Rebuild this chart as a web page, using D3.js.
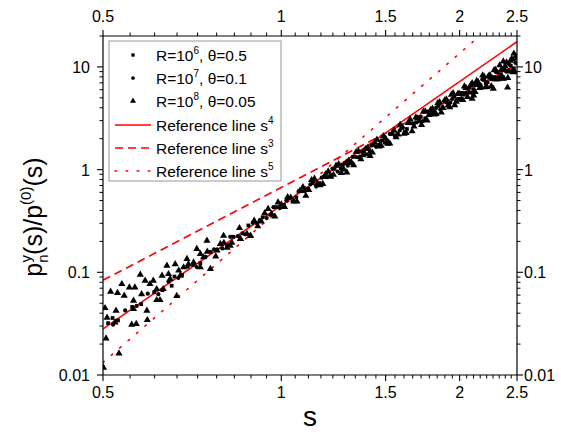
<!DOCTYPE html>
<html><head><meta charset="utf-8">
<script src="https://cdn.jsdelivr.net/npm/d3@7"></script>
<style>body{margin:0;background:#fff}svg{display:block;font-family:Arial,"Liberation Sans",sans-serif}</style>
</head><body><svg id="c" width="561" height="436"></svg>
<script>
// ---- data ----
const xTicks = [0.5, 1, 1.5, 2, 2.5];
const xTickLabels = ["0.5", "1", "1.5", "2", "2.5"];
const yTicks = [0.01, 0.1, 1, 10];
const yTickLabels = ["0.01", "0.1", "1", "10"];

// R=10^6, theta=0.5 (squares)
const sA = [0.51,0.53,0.56,0.58,0.61,0.63,0.66,0.68,0.71,0.73,0.76,0.78,0.81,0.83,0.86,0.88,0.91,0.93,0.96,0.98,1.01,1.03,1.06,1.08,1.11,1.13,1.16,1.18,1.21,1.23,1.26,1.28,1.31,1.33,1.36,1.38,1.41,1.43,1.46,1.48,1.51,1.54,1.57,1.6,1.63,1.66,1.69,1.72,1.75,1.78,1.81,1.84,1.87,1.9,1.93,1.96,1.99,2.02,2.05,2.08,2.11,2.14,2.17,2.2,2.23,2.26,2.29,2.32,2.35,2.38,2.41,2.44,2.47,2.5,0.519,0.653];
const vA = [0.032,0.034,0.046,0.049,0.064,0.067,0.091,0.094,0.118,0.123,0.158,0.165,0.184,0.222,0.239,0.286,0.302,0.343,0.363,0.432,0.454,0.526,0.535,0.615,0.650,0.736,0.739,0.846,0.885,1.016,1.034,1.151,1.151,1.332,1.343,1.490,1.511,1.739,1.743,1.924,1.910,2.226,2.231,2.541,2.486,2.825,2.881,3.255,3.164,3.657,3.695,4.169,4.042,4.519,4.511,5.106,4.893,5.593,5.566,6.279,5.990,6.691,6.625,7.457,7.087,8.044,7.948,8.894,8.429,9.353,9.205,10.29,9.69,10.82,0.0359,0.074];

// R=10^7, theta=0.1 (circles)
const sB = [0.52,0.545,0.57,0.595,0.62,0.645,0.67,0.695,0.72,0.745,0.77,0.795,0.82,0.845,0.87,0.895,0.92,0.945,0.97,0.995,1.02,1.045,1.07,1.095,1.12,1.145,1.17,1.195,1.22,1.245,1.27,1.295,1.32,1.345,1.37,1.395,1.42,1.445,1.47,1.495,1.525,1.555,1.585,1.615,1.645,1.675,1.705,1.735,1.765,1.795,1.825,1.855,1.885,1.915,1.945,1.975,2.005,2.035,2.065,2.095,2.125,2.155,2.185,2.215,2.245,2.275,2.305,2.335,2.365,2.395,2.425,2.455,2.485];
const vB = [0.0309,0.0425,0.0470,0.0620,0.0612,0.0810,0.0880,0.1134,0.1124,0.1414,0.1677,0.1708,0.2218,0.2248,0.2346,0.3031,0.3224,0.3374,0.4303,0.4234,0.4996,0.4920,0.6163,0.6164,0.7193,0.6836,0.8351,0.8429,1.0235,0.9576,1.1067,1.0923,1.3332,1.3197,1.4931,1.4108,1.7108,1.6655,1.8787,1.8297,2.2291,2.1264,2.4041,2.3259,2.8408,2.7979,3.1564,2.9716,3.6808,3.5502,3.9861,3.8446,4.6656,4.3584,4.8756,4.6779,5.5545,5.3835,6.1798,5.6212,6.656,6.5562,7.56,6.8714,7.8589,7.562,8.8703,8.0166,9.4185,9.0501,10.562,9.2368,10.971];

// R=10^8, theta=0.05 (triangles)
const sC = [0.504,0.506,0.501,0.515,0.526,0.532,0.538,0.529,0.543,0.554,0.559,0.566,0.569,0.578,0.563,0.581,0.589,0.594,0.600,0.608,0.616,0.624,0.629,0.641,0.645,0.662,0.671,0.675,0.666,0.693,0.697,0.720,0.730,0.749,0.759,0.730,0.799,0.810,0.820,0.853,0.887,0.508,0.524,0.563,0.593,0.616,0.632,0.649,0.684,0.711,0.739,0.779,0.789,0.887,0.853,
  0.75,0.775,0.8,0.825,0.85,0.875,0.9,0.925,0.95,0.975,1.0,1.025,1.05,1.075,1.1,1.125,1.15,1.175,1.2,1.225,1.25,1.275,1.3,1.325,1.35,1.375,1.4,1.425,1.45,1.475,1.5,1.525,1.55,1.575,1.6,1.625,1.65,1.675,1.7,1.725,1.75,1.775,1.8,1.825,1.85,1.875,1.9,1.925,1.95,1.975,2.0,2.025,2.05,2.075,2.1,2.125,2.15,2.175,2.2,2.225,2.25,2.275,2.3,2.325,2.35,2.375,2.4,2.425,2.45,2.475,2.5,
  0.9125,0.9375,0.9625,0.9875,1.0125,1.0375,1.0625,1.0875,1.1125,1.1375,1.1625,1.1875,1.2125,1.2375,1.2625,1.2875,1.3125,1.3375,1.3625,1.3875,1.4125,1.4375,1.4625,1.4875,1.5125,1.5375,1.5625,1.5875,1.6125,1.6375,1.6625,1.6875,1.7125,1.7375,1.7625,1.7875,1.8125,1.8375,1.8625,1.8875,1.9125,1.9375,1.9625,1.9875,2.0125,2.0375,2.0625,2.0875,2.1125,2.1375,2.1625,2.1875,2.2125,2.2375,2.2625,2.2875,2.3125,2.3375,2.3625,2.3875,2.4125,2.4375,2.4625,2.4875,
  2.41,2.28,2.47,2.37,2.1,1.29];
const vC = [0.0449,0.0227,0.0118,0.0647,0.0423,0.0162,0.0769,0.063,0.0592,0.0713,0.0309,0.0713,0.0314,0.0948,0.0529,0.0613,0.0828,0.0343,0.0769,0.0828,0.0537,0.0537,0.0927,0.116,0.0962,0.12,0.104,0.0927,0.059,0.135,0.12,0.169,0.151,0.203,0.108,0.112,0.227,0.174,0.182,0.211,0.227,0.0362,0.0325,0.0439,0.0423,0.0687,0.0687,0.0861,0.112,0.125,0.14,0.163,0.189,0.227,0.211,
  0.159,0.143,0.194,0.194,0.270,0.237,0.319,0.313,0.414,0.350,0.459,0.541,0.489,0.622,0.556,0.791,0.729,0.725,0.961,0.891,1.131,1.006,1.223,1.107,1.506,1.379,1.637,1.466,1.961,1.707,2.006,1.796,2.409,2.196,2.614,2.278,3.089,2.627,3.15,2.726,3.696,3.405,3.922,3.483,4.536,3.995,4.829,4.057,5.543,4.577,5.45,4.759,6.248,5.634,6.95,5.696,7.116,6.339,8.03,6.373,8.305,7.642,9.382,7.668,9.307,7.735,11.07,9.012,11.95,9.02,12.08,
  0.281,0.376,0.371,0.479,0.433,0.535,0.489,0.674,0.633,0.817,0.705,0.899,0.851,1.092,0.930,1.169,1.180,1.484,1.265,1.587,1.358,1.833,1.678,2.119,1.785,2.233,2.071,2.721,2.241,2.846,2.363,3.223,2.962,3.673,3.010,3.821,3.444,4.435,3.611,4.731,4.204,5.375,4.236,5.494,4.820,6.467,5.108,6.644,5.271,7.308,6.228,8.295,6.342,8.154,6.495,9.309,7.538,10.38,7.688,10.16,7.819,11.5,8.888,12.66,
  6.3,6.15,13.5,11.3,4.9,0.94];

// reference lines  c * s^n
const refExp = [4, 3, 5];
const refCoef = [0.45, 0.67, 0.424];
const refDash = [null, "8,5", "1.6,9.5"];
const refNames = ["Reference line s", "Reference line s", "Reference line s"];

// ---- chart ----
const svg = d3.select("#c");
const L = 103, R = 517, T = 36, B = 375;
const x = d3.scaleLog().domain([0.5, 2.5]).range([L, R]);
const y = d3.scaleLog().domain([0.01, 20]).range([B, T]);

svg.append("defs").append("clipPath").attr("id","clip")
  .append("rect").attr("x", L).attr("y", T).attr("width", R - L).attr("height", B - T);

// minor ticks
const xMinor = [];
for (let i = 0; i < xTicks.length - 1; i++) for (let k = 1; k <= 8; k++) xMinor.push(xTicks[i] + k * (xTicks[i+1] - xTicks[i]) / 9);
const yMinor = [];
[0.01, 0.1, 1, 10].forEach(d => { for (let k = 2; k <= 9; k++) if (d * k <= 20) yMinor.push(d * k); });

function axisH(yPos, dir, labelY) {
  const g = svg.append("g");
  g.append("line").attr("x1", L).attr("x2", R).attr("y1", yPos).attr("y2", yPos).attr("stroke", "#000").attr("stroke-width", 1.2);
  g.selectAll(".mj").data(xTicks).enter().append("line")
    .attr("x1", d => x(d)).attr("x2", d => x(d)).attr("y1", yPos).attr("y2", yPos + dir * 6)
    .attr("stroke", "#000").attr("stroke-width", 1.1);
  g.selectAll(".mn").data(xMinor).enter().append("line")
    .attr("x1", d => x(d)).attr("x2", d => x(d)).attr("y1", yPos).attr("y2", yPos + dir * 3.5)
    .attr("stroke", "#000").attr("stroke-width", 1);
  g.selectAll("text").data(xTicks).enter().append("text")
    .attr("x", d => x(d)).attr("y", labelY).attr("text-anchor", "middle")
    .attr("font-size", 16).text((d, i) => xTickLabels[i]);
}
function axisV(xPos, dir, labelX, anchor) {
  const g = svg.append("g");
  g.append("line").attr("x1", xPos).attr("x2", xPos).attr("y1", T).attr("y2", B).attr("stroke", "#000").attr("stroke-width", 1.2);
  g.selectAll(".mj").data(yTicks).enter().append("line")
    .attr("y1", d => y(d)).attr("y2", d => y(d)).attr("x1", xPos).attr("x2", xPos + dir * 6)
    .attr("stroke", "#000").attr("stroke-width", 1.1);
  g.selectAll(".mn").data(yMinor).enter().append("line")
    .attr("y1", d => y(d)).attr("y2", d => y(d)).attr("x1", xPos).attr("x2", xPos + dir * 3.5)
    .attr("stroke", "#000").attr("stroke-width", 1);
  g.selectAll("text").data(yTicks).enter().append("text")
    .attr("x", labelX).attr("y", d => y(d) + 6).attr("text-anchor", anchor)
    .attr("font-size", 16).text((d, i) => yTickLabels[i]);
}

// data
const plotG = svg.append("g").attr("clip-path", "url(#clip)");

// reference lines (straight on log-log)
refExp.forEach((n, i) => {
  const pts = [0.5, 2.5].map(s => [x(s), y(refCoef[i] * Math.pow(s, n))]);
  const p = plotG.append("path").attr("d", d3.line()(pts))
    .attr("fill", "none").attr("stroke", "#ff0000").attr("stroke-width", 1.6);
  if (refDash[i]) p.attr("stroke-dasharray", refDash[i]);
  if (i === 2) p.attr("stroke-linecap", "round");
});

const sq = d3.symbol().type(d3.symbolSquare).size(14);
const ci = d3.symbol().type(d3.symbolCircle).size(14);
const tr = d3.symbol().type(d3.symbolTriangle).size(22);
const sqL = d3.symbol().type(d3.symbolSquare).size(11);
const ciL = d3.symbol().type(d3.symbolCircle).size(11);
const trL = d3.symbol().type(d3.symbolTriangle).size(16);

plotG.selectAll(".a").data(sA.map((s, i) => [s, vA[i]])).enter().append("path")
  .attr("d", sq).attr("transform", d => `translate(${x(d[0])},${y(d[1])})`).attr("fill", "#000");
plotG.selectAll(".b").data(sB.map((s, i) => [s, vB[i]])).enter().append("path")
  .attr("d", ci).attr("transform", d => `translate(${x(d[0])},${y(d[1])})`).attr("fill", "#000");
plotG.selectAll(".c").data(sC.map((s, i) => [s, vC[i]])).enter().append("path")
  .attr("d", tr).attr("transform", d => `translate(${x(d[0])},${y(d[1])})`).attr("fill", "#000");

// axes
axisH(B, 1, 398);
axisH(T, -1, 22);
axisV(L, -1, 90, "end");
axisV(R, 1, 524, "start");

// titles
svg.append("text").attr("x", (L + R) / 2).attr("y", 426).attr("text-anchor", "middle")
  .attr("font-size", 28).text("s");
const yt = svg.append("text").attr("transform", "translate(42,217) rotate(-90)")
  .attr("text-anchor", "middle").attr("font-size", 25);
yt.append("tspan").text("p");
yt.append("tspan").attr("font-size", 15).attr("dy", 6).text("n");
yt.append("tspan").attr("font-size", 15).attr("dy", -17).attr("dx", -8).text("y");
yt.append("tspan").attr("dy", 11).text("(s)/p");
yt.append("tspan").attr("font-size", 15).attr("dy", -11).text("(0)");
yt.append("tspan").attr("dy", 11).text("(s)");

// legend
const lg = svg.append("g");
lg.append("rect").attr("x", 109).attr("y", 41).attr("width", 172).attr("height", 140)
  .attr("fill", "#fff").attr("stroke", "#999").attr("stroke-width", 1);
const rowsY = [55, 78, 101, 125, 148, 171];
const symNames = [["R=10", "6", ", \u03b8=0.5"], ["R=10", "7", ", \u03b8=0.1"], ["R=10", "8", ", \u03b8=0.05"]];
[sqL, ciL, trL].forEach((sym, i) => {
  lg.append("path").attr("d", sym).attr("transform", `translate(133,${rowsY[i]})`).attr("fill", "#000");
  const t = lg.append("text").attr("x", 156).attr("y", rowsY[i] + 5.5).attr("font-size", 15.5);
  t.append("tspan").text(symNames[i][0]);
  t.append("tspan").attr("font-size", 10).attr("dy", -7).text(symNames[i][1]);
  t.append("tspan").attr("dy", 7).text(symNames[i][2]);
});
refExp.forEach((n, i) => {
  const yy = rowsY[3 + i];
  const l = lg.append("line").attr("x1", 115).attr("x2", 151).attr("y1", yy).attr("y2", yy)
    .attr("stroke", "#ff0000").attr("stroke-width", 1.6);
  if (refDash[i]) l.attr("stroke-dasharray", refDash[i]);
  if (i === 2) l.attr("stroke-linecap", "round");
  const t = lg.append("text").attr("x", 156).attr("y", yy + 5.5).attr("font-size", 15.5);
  t.append("tspan").text(refNames[i]);
  t.append("tspan").attr("font-size", 10).attr("dy", -7).text(String(n));
});
</script></body></html>
